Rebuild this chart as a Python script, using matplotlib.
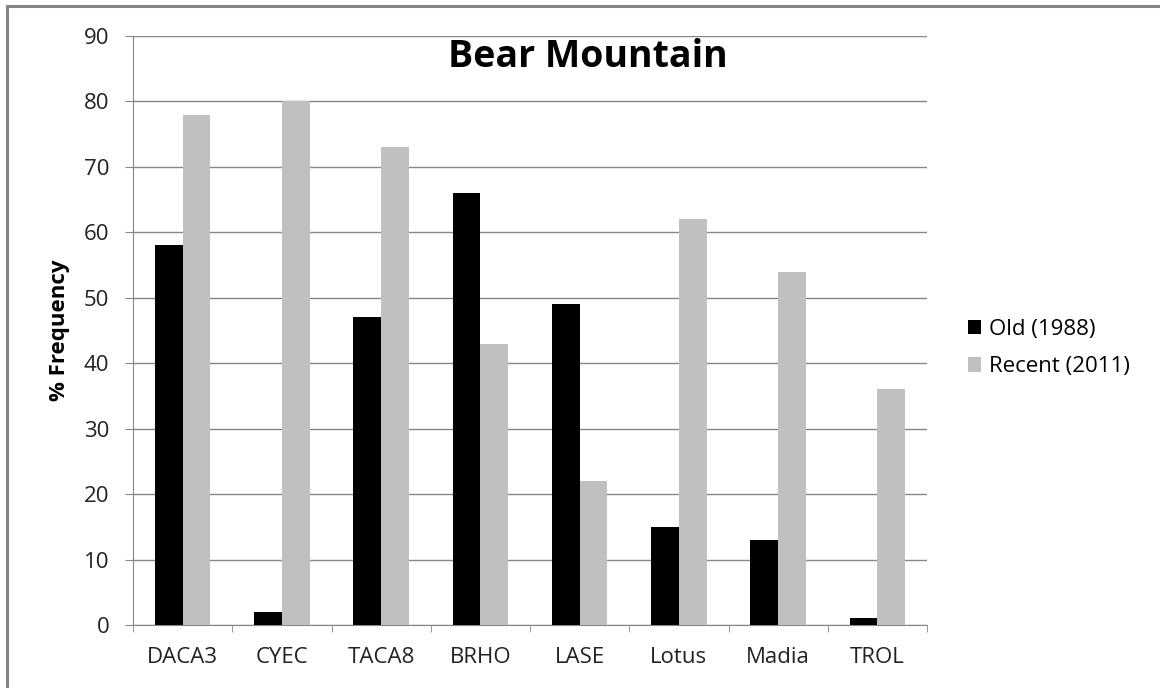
import matplotlib.pyplot as plt
import numpy as np
from matplotlib.patches import Rectangle

plt.rcParams['font.family'] = ['Open Sans', 'DejaVu Sans']

# data
categories = ['DACA3', 'CYEC', 'TACA8', 'BRHO', 'LASE', 'Lotus', 'Madia', 'TROL']
old_1988 = [58, 2, 47, 66, 49, 15, 13, 1]
recent_2011 = [78, 80, 73, 43, 22, 62, 54, 36]
yticks = list(range(0, 91, 10))

W, H = 1160, 688
fig = plt.figure(figsize=(W / 100, H / 100), dpi=100)

# outer chart border (top and left visible, cut at right/bottom)
fig.patches.append(Rectangle((7 / W, -0.1), 1.2, 1 - 6 / H + 0.1, transform=fig.transFigure,
                             fill=False, edgecolor='#868686', linewidth=2.2))

ax = fig.add_axes([133 / W, 1 - 625 / H, (927 - 133) / W, (625 - 36) / H])

x = np.arange(len(categories))
bw = 0.28
ax.bar(x - bw / 2, old_1988, width=bw, color='black', label='Old (1988)', zorder=3)
ax.bar(x + bw / 2, recent_2011, width=bw, color='#c0c0c0', label='Recent (2011)', zorder=3)

ax.set_xlim(-0.5, len(categories) - 0.5)
ax.set_ylim(0, 90)
ax.set_yticks(yticks)
ax.tick_params(axis='y', labelsize=16, length=6, color='#868686', pad=11, labelcolor='#222222')
ax.grid(axis='y', color='#868686', linewidth=1, zorder=0)

ax.set_xticks(x)
ax.set_xticklabels(categories, fontsize=16, color='#222222')
ax.set_xticks(np.arange(len(categories) + 1) - 0.5, minor=True)
ax.tick_params(axis='x', which='major', length=0, pad=16)
ax.tick_params(axis='x', which='minor', length=5, color='#868686')

for s in ['top', 'right']:
    ax.spines[s].set_visible(False)
for s in ['left', 'bottom']:
    ax.spines[s].set_color('#868686')

ax.set_ylabel('% Frequency', fontsize=16, fontweight='bold', labelpad=10)

fig.text(588 / W, 1 - 57 / H, 'Bear Mountain', fontsize=27, fontweight='bold',
         ha='center', va='center')

fig.legend(loc='center left', bbox_to_anchor=(968 / W, 1 - 348 / H), frameon=False, fontsize=16,
           handlelength=0.6, handleheight=0.6, handletextpad=0.35, labelspacing=0.75,
           borderpad=0, borderaxespad=0)

fig.savefig('out.png', dpi=100)
